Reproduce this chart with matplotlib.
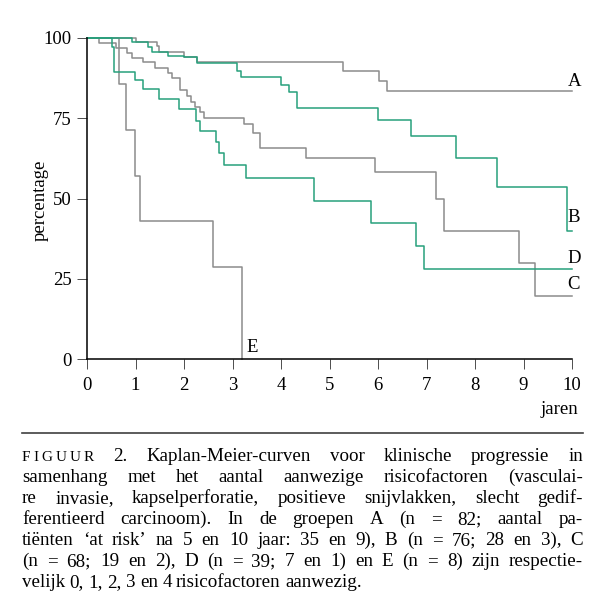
import matplotlib
matplotlib.use('Agg')
import matplotlib.pyplot as plt
from matplotlib.lines import Line2D

plt.rcParams['font.family'] = ['Liberation Serif', 'DejaVu Serif']

# Kaplan-Meier curves (jaren, percentage)
a_years = [0, 1.01, 1.44, 1.49, 2.00, 2.26, 5.27, 6.03, 6.19, 10.0]
a_pct = [100, 98.6, 97.6, 95.7, 94.2, 92.6, 89.8, 86.6, 83.4, 83.4]

b_years = [0, 0.92, 1.26, 1.33, 1.68, 2.00, 2.26, 3.09, 3.17, 3.99, 4.16, 4.34,
           5.99, 6.69, 7.61, 8.45, 9.89, 10.0]
b_pct = [100, 98.6, 97.3, 95.7, 94.5, 94.0, 92.1, 89.8, 87.9, 85.4, 83.1, 78.1,
         74.3, 69.6, 62.6, 53.7, 39.9, 39.9]

c_years = [0, 0.25, 0.60, 0.83, 0.92, 1.16, 1.40, 1.68, 1.75, 1.92, 2.07, 2.14,
           2.23, 2.32, 2.41, 3.24, 3.42, 3.57, 4.52, 5.94, 7.19, 7.37, 8.90, 9.24, 10.0]
c_pct = [100, 98.5, 96.8, 95.2, 93.7, 92.4, 90.8, 89.0, 87.4, 83.8, 82.0, 80.2,
         78.6, 76.8, 75.2, 73.2, 70.3, 65.6, 62.5, 58.4, 49.8, 39.9, 29.8, 19.7, 19.7]

d_years = [0, 0.51, 0.56, 0.99, 1.16, 1.49, 1.90, 2.24, 2.32, 2.65, 2.73, 2.82,
           3.27, 4.68, 5.86, 6.78, 6.95, 10.0]
d_pct = [100, 97.3, 89.5, 86.9, 84.1, 81.0, 77.8, 74.2, 71.0, 67.5, 64.1, 60.4,
         56.3, 49.1, 42.3, 35.2, 27.9, 27.9]

e_years = [0, 0.66, 0.80, 0.99, 1.10, 2.60, 3.19]
e_pct = [100, 85.7, 71.4, 57.1, 42.9, 28.6, 0]

x_ticks = list(range(11))
y_ticks = [0, 25, 50, 75, 100]

GREY = '#8c8c8c'
GREEN = '#27a07c'

caption_lines = [
    'FIGUUR 2. Kaplan-Meier-curven voor klinische progressie in',
    'samenhang met het aantal aanwezige risicofactoren (vasculai-',
    're invasie, kapselperforatie, positieve snijvlakken, slecht gedif-',
    'ferentieerd carcinoom). In de groepen A (n = 82; aantal pa-',
    'tiënten ‘at risk’ na 5 en 10 jaar: 35 en 9), B (n = 76; 28 en 3), C',
    '(n = 68; 19 en 2), D (n = 39; 7 en 1) en E (n = 8) zijn respectie-',
    'velijk 0, 1, 2, 3 en 4 risicofactoren aanwezig.',
]

W, H = 600, 615
fig = plt.figure(figsize=(W / 100, H / 100), dpi=100)
ax = fig.add_axes([87 / W, 1 - 359 / H, 485 / W, 321 / H])

curves = [(a_years, a_pct, GREY), (c_years, c_pct, GREY), (e_years, e_pct, GREY),
          (b_years, b_pct, GREEN), (d_years, d_pct, GREEN)]
for yrs, pct, col in curves:
    ax.step(yrs, pct, where='post', color=col, lw=1.1, clip_on=False)

# curve labels
for name, xx, yy in [('A', 9.92, 86.3), ('B', 9.9, 44.0), ('D', 9.9, 31.2),
                     ('C', 9.9, 23.1), ('E', 3.28, 3.6)]:
    ax.text(xx, yy, name, fontsize=13.5, ha='left', va='center')

ax.set_xlim(0, 10)
ax.set_ylim(0, 100)
ax.set_xticks(x_ticks)
ax.set_yticks(y_ticks)
for sp in ['top', 'right']:
    ax.spines[sp].set_visible(False)
for sp in ['left', 'bottom']:
    ax.spines[sp].set_linewidth(1.1)
ax.tick_params(direction='out', length=7, width=0.7, labelsize=13.5, color='0.3')
ax.tick_params(axis='y', pad=4)
ax.tick_params(axis='x', pad=6)

fig.text(40 / W, 1 - 200 / H, 'percentage', rotation=90, fontsize=13.5,
         ha='center', va='center')
fig.text(578 / W, 1 - 410 / H, 'jaren', fontsize=13.5, ha='right', va='center')

# caption with rule above, justified lines
fig.add_artist(Line2D([22 / W, 583 / W], [1 - 433 / H] * 2, color='0.25', lw=1.2))

cap_fs = 13.7
left, right = 22, 583
fig.canvas.draw()
renderer = fig.canvas.get_renderer()


def make_word(word, y):
    # returns list of (text, offset) and total width in pixels
    if word == 'FIGUUR':
        # small caps with wide tracking
        parts, off = [], 0
        for ch in word:
            t = fig.text(0, y, ch, fontsize=cap_fs * 0.8, va='baseline', ha='left')
            wd = t.get_window_extent(renderer).width
            parts.append((t, off))
            off += wd + 3.0
        return parts, off - 3.0
    t = fig.text(0, y, word, fontsize=cap_fs, va='baseline', ha='left')
    return [(t, 0)], t.get_window_extent(renderer).width


for i, line in enumerate(caption_lines):
    y = 1 - (461 + 21 * i) / H
    words = [make_word(w, y) for w in line.split(' ')]
    total = sum(wd for _, wd in words)
    if i == len(caption_lines) - 1:
        gap = cap_fs * 0.23 * 100 / 72
    else:
        gap = (right - left - total) / (len(words) - 1)
    x = left
    for parts, wd in words:
        for t, off in parts:
            t.set_x((x + off) / W)
        x += wd + gap

fig.savefig('out.png', dpi=100)
